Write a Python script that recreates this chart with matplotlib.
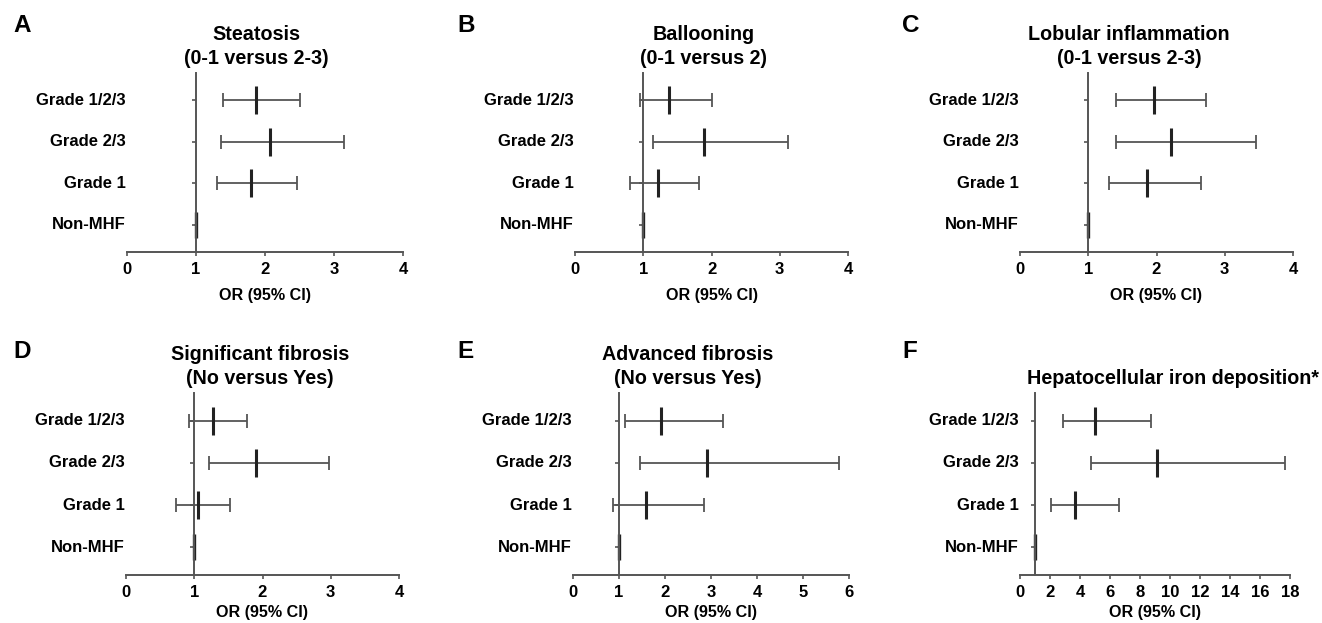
import matplotlib
matplotlib.use("Agg")
import matplotlib.pyplot as plt
import matplotlib.transforms as mtransforms

plt.rcParams['font.family'] = ['Liberation Sans', 'DejaVu Sans']
plt.rcParams['font.weight'] = 'bold'

# rows, bottom to top
groups = ['Non-MHF', 'Grade 1', 'Grade 2/3', 'Grade 1/2/3']

letters = ['A', 'B', 'C', 'D', 'E', 'F']
titles = ['Steatosis\n(0-1 versus 2-3)',
          'Ballooning\n(0-1 versus 2)',
          'Lobular inflammation\n(0-1 versus 2-3)',
          'Significant fibrosis\n(No versus Yes)',
          'Advanced fibrosis\n(No versus Yes)',
          'Hepatocellular iron deposition*']

# odds ratios for Grade 1, Grade 2/3, Grade 1/2/3 (Non-MHF is the reference, OR = 1)
or_a = [1.79, 2.07, 1.87]
lo_a = [1.31, 1.36, 1.39]
hi_a = [2.46, 3.14, 2.51]

or_b = [1.21, 1.89, 1.38]
lo_b = [0.80, 1.14, 0.95]
hi_b = [1.81, 3.12, 2.01]

or_c = [1.86, 2.21, 1.96]
lo_c = [1.31, 1.40, 1.41]
hi_c = [2.65, 3.46, 2.72]

or_d = [1.06, 1.90, 1.27]
lo_d = [0.73, 1.21, 0.92]
hi_d = [1.52, 2.97, 1.77]

or_e = [1.59, 2.91, 1.92]
lo_e = [0.87, 1.45, 1.12]
hi_e = [2.85, 5.78, 3.26]

or_f = [3.64, 9.13, 5.02]
lo_f = [2.04, 4.76, 2.89]
hi_f = [6.60, 17.64, 8.76]

x_max = [4, 4, 4, 4, 6, 18]
x_step = [1, 1, 1, 1, 1, 2]

panels = [(or_a, lo_a, hi_a), (or_b, lo_b, hi_b), (or_c, lo_c, hi_c),
          (or_d, lo_d, hi_d), (or_e, lo_e, hi_e), (or_f, lo_f, hi_f)]

W, H = 1322, 623
fig = plt.figure(figsize=(W / 100, H / 100), dpi=100)

# axes boxes in pixels: left, x-axis y, width, height
boxes = [(127, 252, 276, 179), (575, 252, 273, 179), (1020, 252, 273, 179),
         (126, 575, 273, 182), (573, 575, 276, 182), (1020, 575, 270, 182)]
title_x = [0.47, 0.47, 0.40, 0.49, 0.417, 0.567]
letter_pos = [(13, 26), (457, 26), (902, 26), (13, 352), (457, 352), (902, 352)]

line_col = '#555555'

for i, (ors, los, his) in enumerate(panels):
    left, base, w, h = boxes[i]
    ax = fig.add_axes([left / W, (H - base) / H, w / W, h / H])

    ys = [1, 2, 3]
    for y, o, lo, hi in zip(ys, ors, los, his):
        ax.errorbar(o, y, xerr=[[o - lo], [hi - o]], fmt='none', ecolor=line_col,
                    elinewidth=1.3, capsize=4.7, capthick=1.3)
        ax.plot(o, y, marker='|', markersize=20, mew=2.2, color='#222222')
    # reference group
    ax.plot(1, 0, marker='|', markersize=19, mew=2.4, color='#222222')

    ax.set_xlim(0, x_max[i])
    ax.set_ylim(-0.65, 3.65)
    ax.set_xticks(range(0, x_max[i] + 1, x_step[i]))
    ax.set_yticks(range(4))
    ax.set_yticklabels([])
    ax.tick_params(axis='x', direction='out', length=3, width=1.2, color=line_col,
                   labelsize=12, pad=4)
    ax.tick_params(axis='y', direction='out', length=3, width=1.2, color=line_col)
    for lab in ax.get_xticklabels():
        lab.set_fontweight('bold')

    ax.spines['top'].set_visible(False)
    ax.spines['right'].set_visible(False)
    ax.spines['left'].set_position(('data', 1))
    ax.spines['left'].set_color(line_col)
    ax.spines['bottom'].set_color(line_col)
    ax.spines['left'].set_linewidth(1.4)
    ax.spines['bottom'].set_linewidth(1.4)

    trans = mtransforms.blended_transform_factory(ax.transAxes, ax.transData)
    for y, g in enumerate(groups):
        ax.text(-0.005, y, g, transform=trans, ha='right', va='center',
                fontsize=12, fontweight='bold')

    # bottom row has little room below, so keep its label a bit tighter
    ax.set_xlabel('OR (95% CI)', fontsize=11.6, fontweight='bold',
                  labelpad=8 if i < 3 else 4)

    ax.text(title_x[i], 1.03, titles[i], transform=ax.transAxes, ha='center',
            va='bottom', fontsize=14.2, fontweight='bold', linespacing=1.32)

    lx, ly = letter_pos[i]
    fig.text(lx / W, 1 - ly / H, letters[i], ha='left', va='center',
             fontsize=17.5, fontweight='bold')

fig.savefig('out.png', dpi=100)
